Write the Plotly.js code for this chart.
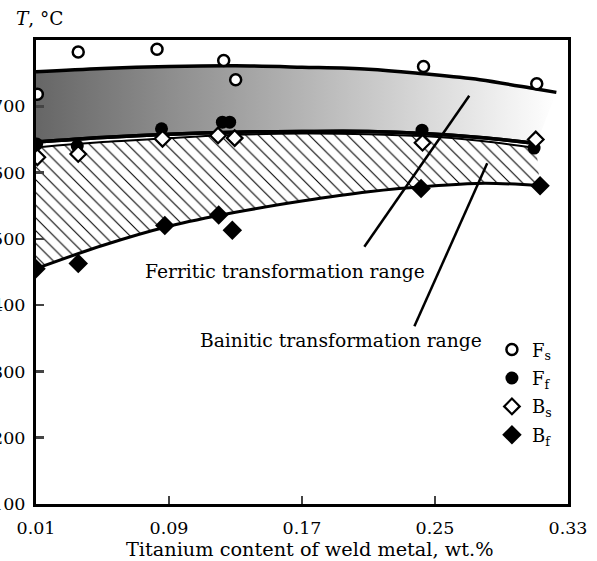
<!DOCTYPE html>
<html>
<head>
<meta charset="utf-8">
<script src="https://cdn.plot.ly/plotly-3.0.1.min.js"></script>
<style>html,body{margin:0;padding:0;background:#fff;}#chart{width:597px;height:561px;}</style>
</head>
<body>
<div id="chart"></div>
<script>
// ---- data ----
const fsX = [0.0108, 0.0354, 0.0828, 0.1229, 0.1301, 0.2431, 0.3112];
const fsY = [718, 782, 786, 769, 740, 760, 734];
const ffX = [0.0104, 0.0348, 0.0855, 0.1221, 0.1265, 0.2422, 0.3096];
const ffY = [643, 640, 666, 676, 676, 664, 637];
const bsX = [0.0108, 0.0354, 0.0861, 0.1195, 0.1295, 0.2425, 0.3106];
const bsY = [623, 628, 651, 656, 652, 645, 650];
const bfX = [0.0100, 0.0354, 0.0875, 0.1199, 0.1281, 0.2416, 0.3132];
const bfY = [455, 463, 520, 536, 513, 576, 580];

// fitted curves
const fsCurveX = [0.01, 0.05, 0.09, 0.13, 0.17, 0.21, 0.243, 0.277, 0.311, 0.323];
const fsCurveY = [752, 757, 760, 761, 759, 756, 749, 740, 726, 721];
const ffCurveX = [0.01, 0.05, 0.09, 0.13, 0.17, 0.21, 0.243, 0.277, 0.311];
const ffCurveY = [646, 653, 658, 661, 662, 662, 659, 653, 644];
const bsCurveX = [0.01, 0.05, 0.09, 0.13, 0.17, 0.21, 0.243, 0.277, 0.311];
const bsCurveY = [638, 646, 652, 657, 659, 658, 655, 648, 637];
const bfCurveX = [0.01, 0.05, 0.09, 0.13, 0.17, 0.21, 0.25, 0.28, 0.313];
const bfCurveY = [455, 490, 519, 540, 557, 571, 580, 584, 580];

// leader lines for labels [x0, y0, x1, y1]
const ferriticLeader = [0.2075, 488, 0.2706, 716];
const bainiticLeader = [0.2376, 368, 0.2814, 614];
const ferriticLabel = {x: 0.0742, y: 451, text: 'Ferritic transformation range'};
const bainiticLabel = {x: 0.1073, y: 347, text: 'Bainitic transformation range'};

const xTicks = [0.01, 0.09, 0.17, 0.25, 0.33];
const yTicks = [100, 200, 300, 400, 500, 600, 700];
const seriesNames = ['F<sub>s</sub>', 'F<sub>f</sub>', 'B<sub>s</sub>', 'B<sub>f</sub>'];
const xTitle = 'Titanium content of weld metal, wt.%';
const yTitle = '<i>T</i>, °C';

const FONT = 'DejaVu Serif';

const traces = [
  // gray gradient band: between Ff curve and Fs curve
  {x: ffCurveX, y: ffCurveY, mode: 'lines', line: {color: '#000', width: 3.5, shape: 'spline'}, showlegend: false, hoverinfo: 'skip'},
  {x: fsCurveX, y: fsCurveY, mode: 'lines', line: {color: '#000', width: 3.5, shape: 'spline'},
   fill: 'tonexty', fillgradient: {type: 'horizontal', colorscale: [[0, 'rgb(102,102,102)'], [1, 'rgb(255,255,255)']]},
   showlegend: false, hoverinfo: 'skip'},
  // hatched band: between Bf curve and Bs curve
  {x: bfCurveX, y: bfCurveY, mode: 'lines', line: {color: '#000', width: 3, shape: 'spline'}, showlegend: false, hoverinfo: 'skip'},
  {x: bsCurveX, y: bsCurveY, mode: 'lines', line: {color: '#000', width: 2, shape: 'spline'},
   fill: 'tonexty', fillcolor: 'rgba(255,255,255,0)',
   fillpattern: {shape: '\\', fgcolor: '#000', bgcolor: '#fff', size: 9, solidity: 0.12},
   showlegend: false, hoverinfo: 'skip'},
  // redraw Ff curve on top
  {x: ffCurveX, y: ffCurveY, mode: 'lines', line: {color: '#000', width: 3.5, shape: 'spline'}, showlegend: false, hoverinfo: 'skip'},
  // markers
  {x: fsX, y: fsY, name: seriesNames[0], mode: 'markers', legendgroup: 'a',
   marker: {symbol: 'circle', size: 11, color: '#fff', line: {color: '#000', width: 2.5}}},
  {x: ffX, y: ffY, name: seriesNames[1], mode: 'markers', legendgroup: 'b',
   marker: {symbol: 'circle', size: 13, color: '#000', line: {color: '#000', width: 0}}},
  {x: bsX, y: bsY, name: seriesNames[2], mode: 'markers', legendgroup: 'c',
   marker: {symbol: 'diamond', size: 12, color: '#fff', line: {color: '#000', width: 2.2}}},
  {x: bfX, y: bfY, name: seriesNames[3], mode: 'markers', legendgroup: 'd',
   marker: {symbol: 'diamond', size: 15, color: '#000', line: {color: '#000', width: 0}}}
];

const layout = {
  width: 597, height: 561,
  margin: {l: 36, r: 29, t: 40, b: 57},
  paper_bgcolor: '#fff', plot_bgcolor: '#fff',
  font: {family: FONT, size: 17, color: '#000'},
  showlegend: true,
  legend: {x: 0.857, xanchor: 'left', y: 0.372, yanchor: 'top', bgcolor: 'rgba(0,0,0,0)',
           font: {family: FONT, size: 18, color: '#000'}, traceorder: 'grouped', tracegroupgap: 2},
  xaxis: {range: [0.01, 0.33], tickvals: xTicks, tickformat: '.2f', ticks: 'inside', ticklen: 8, tickwidth: 2.5,
          showline: true, linewidth: 3, linecolor: '#000', mirror: true, showgrid: false, zeroline: false,
          ticklabelstandoff: 6, tickfont: {family: FONT, size: 17.5}},
  yaxis: {range: [100, 800], tickvals: yTicks, ticks: 'inside', ticklen: 8, tickwidth: 2.5,
          showline: true, linewidth: 3, linecolor: '#000', mirror: true, showgrid: false, zeroline: false,
          ticklabelstandoff: 4, tickfont: {family: FONT, size: 17.5}},
  shapes: [
    {type: 'line', xref: 'x', yref: 'y', x0: ferriticLeader[0], y0: ferriticLeader[1], x1: ferriticLeader[2], y1: ferriticLeader[3], line: {color: '#000', width: 2.5}},
    {type: 'line', xref: 'x', yref: 'y', x0: bainiticLeader[0], y0: bainiticLeader[1], x1: bainiticLeader[2], y1: bainiticLeader[3], line: {color: '#000', width: 2.5}}
  ],
  annotations: [
    {xref: 'x', yref: 'y', x: ferriticLabel.x, y: ferriticLabel.y, text: ferriticLabel.text, showarrow: false,
     xanchor: 'left', yanchor: 'middle', font: {family: FONT, size: 18.7, color: '#000'}},
    {xref: 'x', yref: 'y', x: bainiticLabel.x, y: bainiticLabel.y, text: bainiticLabel.text, showarrow: false,
     xanchor: 'left', yanchor: 'middle', font: {family: FONT, size: 18.7, color: '#000'}},
    {xref: 'paper', yref: 'paper', x: 0.514, y: -0.099, text: xTitle, showarrow: false,
     xanchor: 'center', yanchor: 'middle', font: {family: FONT, size: 19.3, color: '#000'}},
    {xref: 'paper', yref: 'paper', x: -0.041, y: 1.047, text: yTitle, showarrow: false,
     xanchor: 'left', yanchor: 'middle', font: {family: FONT, size: 18.5, color: '#000'}}
  ]
};

Plotly.newPlot('chart', traces, layout, {staticPlot: true, displayModeBar: false});
</script>
</body>
</html>
